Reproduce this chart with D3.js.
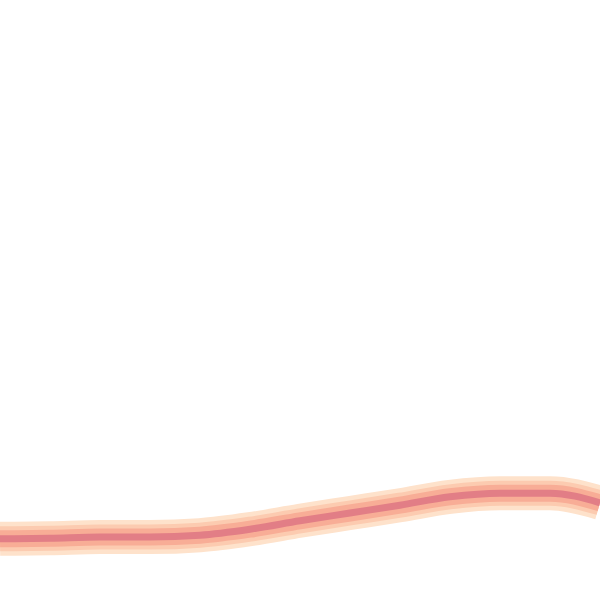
<!DOCTYPE html>
<html>
<head>
<meta charset="utf-8">
<script src="https://cdn.jsdelivr.net/npm/d3@7"></script>
<style>
  html, body { margin: 0; padding: 0; background: #fff; }
  svg { display: block; }
</style>
</head>
<body>
<div id="chart"></div>
<script>
// Data
const xValues = [0, 1, 2, 3, 4, 5, 6, 7, 8, 9, 10, 11, 12];
const yValues = [10.2, 10.3, 10.5, 10.5, 10.8, 11.8, 13.2, 14.5, 15.8, 17.2, 17.8, 17.8, 16.2];

// Band layers (outer glow to core)
const bandWidths = [34, 25, 17, 7];
const bandColors = ["#fee2cb", "#fccbb0", "#f8ad96", "#e27e86"];

const W = 600, H = 600;
const data = xValues.map((x, i) => ({ x, y: yValues[i] }));

const x = d3.scaleLinear().domain([0, 12]).range([0, W]);
const y = d3.scaleLinear().domain([0, 100]).range([H, 0]);

const svg = d3.select("#chart").append("svg")
  .attr("width", W).attr("height", H);

const line = d3.line()
  .x(d => x(d.x))
  .y(d => y(d.y))
  .curve(d3.curveMonotoneX);

svg.selectAll("path.band")
  .data(bandWidths.map((w, i) => ({ w, c: bandColors[i] })))
  .join("path")
  .attr("class", "band")
  .attr("d", line(data))
  .attr("fill", "none")
  .attr("stroke", d => d.c)
  .attr("stroke-width", d => d.w)
  .attr("stroke-linejoin", "round")
  .attr("stroke-linecap", "butt");
</script>
</body>
</html>
